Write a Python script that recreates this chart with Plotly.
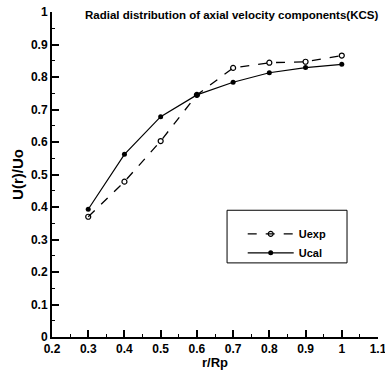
import plotly.graph_objects as go

r_rp = [0.3, 0.4, 0.5, 0.6, 0.7, 0.8, 0.9, 1.0]
u_exp = [0.370, 0.478, 0.603, 0.745, 0.828, 0.844, 0.847, 0.866]
u_cal = [0.393, 0.562, 0.678, 0.745, 0.784, 0.813, 0.829, 0.839]
x_ticks = [0.2, 0.3, 0.4, 0.5, 0.6, 0.7, 0.8, 0.9, 1.0, 1.1]
y_ticks = [0, 0.1, 0.2, 0.3, 0.4, 0.5, 0.6, 0.7, 0.8, 0.9, 1.0]

font_family = "Liberation Sans"

fig = go.Figure()
fig.add_trace(go.Scatter(
    x=r_rp, y=u_exp, name="Uexp", mode="lines+markers",
    line=dict(color="black", width=1.3, dash="dash"),
    marker=dict(symbol="circle-open", size=5, color="black", line=dict(width=1.2)),
))
fig.add_trace(go.Scatter(
    x=r_rp, y=u_cal, name="Ucal", mode="lines+markers",
    line=dict(color="black", width=1.2),
    marker=dict(symbol="circle", size=5, color="black"),
))

axis_common = dict(
    showgrid=False, zeroline=False, showline=True, linecolor="black", linewidth=2,
    ticks="inside", ticklen=7, tickwidth=2, tickcolor="black", automargin=False,
    ticklabeloverflow="allow",
    tickfont=dict(family=font_family, size=12, color="black", weight="bold"),
    minor=dict(ticks="inside", ticklen=3, tickwidth=1, tickcolor="black", nticks=5),
    mirror=False,
)

fig.update_xaxes(range=[0.2, 1.1], tickvals=x_ticks, ticktext=[f"{v:g}" for v in x_ticks],
                 title=dict(text="r/Rp", font=dict(family=font_family, size=13, color="black", weight="bold"), standoff=0),
                 **axis_common)
fig.update_yaxes(range=[0, 1.0], tickvals=y_ticks, ticktext=[f"{v:g}" for v in y_ticks],
                 title=dict(text="U(r)/Uo", font=dict(family=font_family, size=15, color="black", weight="bold"), standoff=4),
                 **axis_common)

fig.update_layout(
    width=385, height=370,
    margin=dict(l=52, r=7, t=12, b=33),
    paper_bgcolor="white", plot_bgcolor="white",
    showlegend=True,
    legend=dict(x=0.585, y=0.362, xanchor="left", yanchor="top",
                borderwidth=0, bgcolor="rgba(0,0,0,0)", itemwidth=46,
                font=dict(family=font_family, size=11, color="black", weight="bold"),
                tracegroupgap=0),
    shapes=[dict(type="rect", xref="paper", yref="paper",
                 x0=0.537, x1=0.905, y0=0.228, y1=0.39,
                 line=dict(color="black", width=1), fillcolor="white", layer="below")],
    annotations=[dict(text="Radial distribution of axial velocity components(KCS)",
                      xref="paper", yref="paper", x=1.006, y=0.99, xanchor="right", yanchor="middle",
                      showarrow=False, font=dict(family=font_family, size=11.5, color="black", weight="bold"))],
)

fig.write_html("out.html", config={"displayModeBar": False},
               post_script="document.body.style.margin='0';document.body.style.overflow='hidden';")
